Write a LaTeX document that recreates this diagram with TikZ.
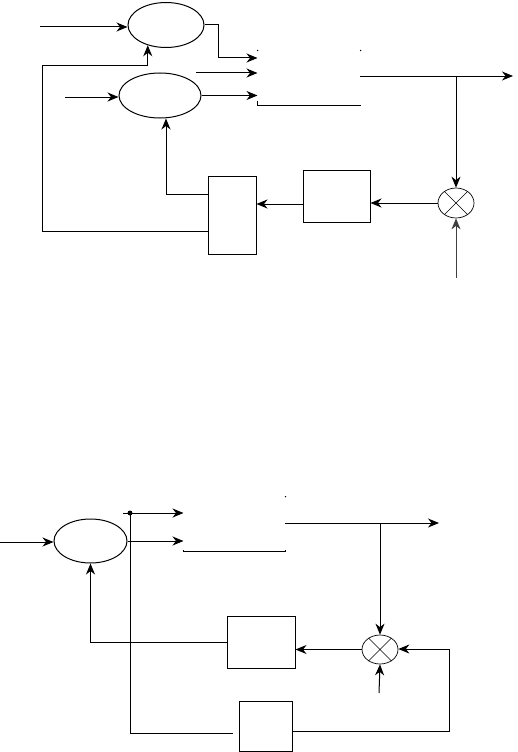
\documentclass[tikz,border=0pt]{standalone}
\usetikzlibrary{shapes.geometric,arrows.meta}
\begin{document}
\begin{tikzpicture}[x=1pt,y=-1pt,line width=1pt,
  arr/.style={-{Stealth[length=11pt,width=9pt,inset=3.5pt]}},
  oval/.style={draw,ellipse,inner sep=0pt},
  blk/.style={draw,rectangle,inner sep=0pt},
  ghost/.style={rectangle,inner sep=0pt},
  dot/.style={circle,fill,inner sep=0pt,minimum size=1.5pt}]
\useasboundingbox (0,0) rectangle (517,752);

% ---------- top diagram ----------
\node[oval,minimum width=76pt,minimum height=45pt] (e1) at (166,25) {};
\node[oval,minimum width=82pt,minimum height=45pt] (e2) at (160,95.5) {};
\node[ghost,minimum width=102pt,minimum height=54pt] (sw) at (309,78) {};
\node[oval,minimum width=36pt,minimum height=30pt,line width=0.7pt] (m1) at (456,203) {};
\node[blk,minimum width=67pt,minimum height=52pt] (b2) at (336.5,196) {};
\node[blk,minimum width=48pt,minimum height=78pt] (b1) at (232,215) {};

\draw[line width=0.6pt] (m1.45) -- (m1.225) (m1.135) -- (m1.315);

\coordinate (in1) at (40,27);
\coordinate (in2) at (65,97);
\coordinate (s2) at (196,73);
\coordinate (fbTL) at (42,66);
\coordinate (fbBL) at (42,231);
\coordinate (o1) at (360,76);
\coordinate (j1) at (456,76);
\coordinate (out1) at (513,76);
\coordinate (u1) at (456,278);

\draw[arr] (in1) -- (in1 -| e1.west);
\draw[arr] (e1.east) -- ++(14,0) |- (sw.west |- 0,58);
\draw[arr] (fbTL) -| (e1.228);
\draw (fbTL) -- (fbBL) -- (b1.west |- fbBL);
\draw[arr] (in2) -- (in2 -| e2.west);
\draw[arr] (s2) -- (s2 -| sw.west);
\draw[arr] (e2.east) -- (e2.east -| sw.west);
\draw (sw.south west) -- (sw.south east);
\draw (sw.south west) -- ++(0,-5);
\node[dot] (sd1) at (sw.north west) {};
\node[dot] (sd2) at (sw.north east) {};
\draw[arr] (o1) -- (out1);
\draw[arr] (j1) -- (m1.north);
\draw[arr,black!75] (u1) -- (m1.south);
\draw[arr] (m1.west) -- (b2.east |- m1.west);
\draw[arr] (b2.west |- 0,204) -- (b1.east |- 0,204);
\draw[arr] (b1.west |- 0,194) -| (e2.south -| 166,0);

% ---------- bottom diagram ----------
\node[oval,minimum width=73pt,minimum height=44pt] (e3) at (90.5,541) {};
\node[ghost,minimum width=101pt,minimum height=54pt] (sw2) at (234.5,524) {};
\node[oval,minimum width=36pt,minimum height=29pt,line width=0.7pt] (m2) at (380,649.5) {};
\node[blk,minimum width=68pt,minimum height=52pt] (b3) at (261,642) {};
\node[blk,minimum width=53pt,minimum height=50pt] (b4) at (265.5,726) {};

\draw[line width=0.6pt] (m2.45) -- (m2.225) (m2.135) -- (m2.315);

\coordinate (in3) at (0,542);
\coordinate (d3) at (130,513);
\coordinate (d3a) at (123,513);
\coordinate (c3) at (130,733);
\coordinate (c4) at (233,733);
\coordinate (o2) at (285,523);
\coordinate (j2) at (380,523);
\coordinate (out2) at (439,523);
\coordinate (u2) at (379,693);
\coordinate (r1) at (449,649);

\draw[arr] (in3) -- (in3 -| e3.west);
\node[circle,fill,inner sep=0pt,minimum width=4pt,minimum height=5pt] (dd) at (d3) {};
\draw[arr] (d3a) -- (sw2.west |- d3);
\draw[arr] (e3.east) -- (e3.east -| sw2.west);
\draw (d3) -- (c3) -- (c4);
\draw (sw2.south west) -- (sw2.south east);
\draw (sw2.south west) -- ++(0,-2);
\draw (sw2.south east) -- ++(0,-2);
\node[dot] (sd3) at (sw2.north east) {};
\draw[arr] (o2) -- (out2);
\draw[arr] (j2) -- (m2.north);
\draw[arr] (u2) -- (m2.south);
\draw[arr] (r1) -- (r1 -| m2.east);
\draw (b4.east |- 0,731) -| (r1);
\draw[arr] (m2.west) -- (b3.east |- m2.west);
\draw[arr] (b3.west) -| (e3.south);
\end{tikzpicture}
\end{document}
